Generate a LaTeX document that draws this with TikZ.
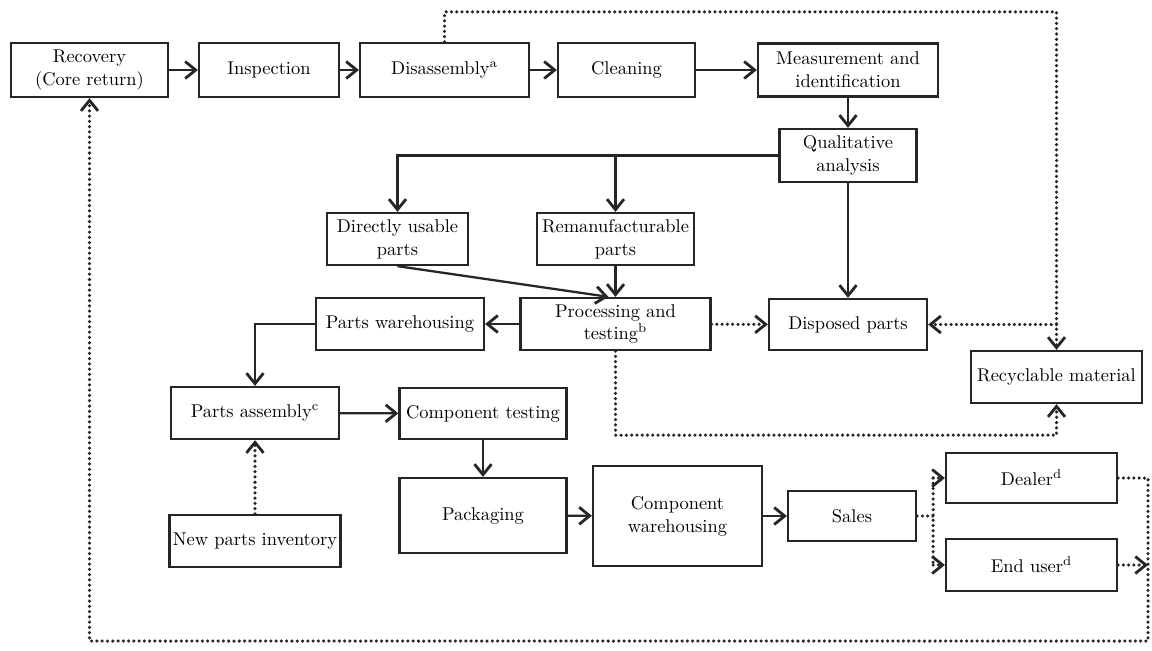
\documentclass[tikz,border=0pt]{standalone}
\usetikzlibrary{arrows.meta}
\definecolor{ink}{HTML}{262626}
\tikzset{
  box/.style={draw=ink, line width=1.3pt, align=center, inner sep=1pt,
    font=\fontsize{10.5}{13}\selectfont, text=black},
  link/.style={draw=ink, line width=1.3pt},
  flow/.style={link, -{Straight Barb[length=2.1mm,width=3.4mm,line width=1.6pt]}},
  dotlink/.style={draw=ink, line width=2pt, line cap=round, dash pattern=on 0pt off 3pt},
  dotflow/.style={dotlink, -{Straight Barb[length=2.1mm,width=3.4mm,line width=1.6pt]}},
}
\begin{document}
\begin{tikzpicture}[x=0.02cm,y=-0.02cm]
\useasboundingbox (0,0) rectangle (1152,650);
% first row
\node[box, minimum width=3.14cm, minimum height=1.08cm] (recov) at (89.5,70) {Recovery\\(Core return)};
\node[box, minimum width=2.8cm, minimum height=1.08cm] (insp) at (269,70) {Inspection};
\node[box, minimum width=3.38cm, minimum height=1.08cm] (disas) at (444.5,70) {Disassembly\textsuperscript{a}};
\node[box, minimum width=2.74cm, minimum height=1.08cm] (clean) at (626.5,70) {Cleaning};
\node[box, minimum width=3.6cm, minimum height=1.06cm] (meas) at (848,70) {Measurement and\\identification};
\node[box, minimum width=2.74cm, minimum height=1.06cm] (qual) at (848,155.5) {Qualitative\\analysis};
% sorted parts
\node[box, minimum width=2.82cm, minimum height=1.04cm] (direct) at (397.5,239) {Directly usable\\parts};
\node[box, minimum width=3.14cm, minimum height=1.04cm] (reman) at (615.5,239) {Remanufacturable\\parts};
\node[box, minimum width=3.8cm, minimum height=1.04cm] (proc) at (615.5,324) {Processing and\\testing\textsuperscript{b}};
\node[box, minimum width=3.36cm, minimum height=1.04cm] (pware) at (400,324) {Parts warehousing};
\node[box, minimum width=3.16cm, minimum height=1.02cm] (dispo) at (848,324.5) {Disposed parts};
\node[box, minimum width=3.42cm, minimum height=1.04cm] (recyc) at (1056.5,377) {Recyclable material};
% assembly and sales
\node[box, minimum width=3.36cm, minimum height=1.04cm] (passy) at (255,413) {Parts assembly\textsuperscript{c}};
\node[box, minimum width=3.34cm, minimum height=1.02cm] (ctest) at (483,413.5) {Component testing};
\node[box, minimum width=3.42cm, minimum height=1.04cm] (newp) at (255,541) {New parts inventory};
\node[box, minimum width=3.34cm, minimum height=1.5cm] (pack) at (483,515.5) {Packaging};
\node[box, minimum width=3.38cm, minimum height=2cm] (cware) at (677.5,516) {Component\\warehousing};
\node[box, minimum width=2.56cm, minimum height=1cm] (sales) at (852,516) {Sales};
\node[box, minimum width=3.42cm, minimum height=1cm] (dealer) at (1031.5,478) {Dealer\textsuperscript{d}};
\node[box, minimum width=3.42cm, minimum height=1.04cm] (user) at (1031.5,565) {End user\textsuperscript{d}};
% solid flow
\draw[flow] (recov) -- (insp);
\draw[flow] (insp) -- (disas);
\draw[flow] (disas) -- (clean);
\draw[flow] (clean) -- (meas);
\draw[flow] (meas) -- (qual);
\draw[flow] (qual.west) -| (direct.north);
\draw[flow] (qual.west -| reman.north) -- (reman.north);
\draw[flow] (qual) -- (dispo);
\draw[flow] (direct.south) -- ([xshift=-0.14cm]proc.north);
\draw[flow] (reman) -- (proc);
\draw[flow] (proc) -- (pware);
\draw[flow] (pware.west) -| (passy.north);
\draw[flow] (passy) -- (ctest);
\draw[flow] (ctest) -- (pack);
\draw[flow] (pack) -- (cware);
\draw[flow] (cware) -- (sales);
% dotted flow
\draw[dotflow] (newp) -- (passy);
\draw[dotflow] (proc) -- (dispo);
\draw[dotflow] (disas.north) -- ++(0,-30) -| (recyc.north);
\draw[dotflow] (recyc.north |- dispo.east) -- (dispo.east);
\draw[dotflow] (proc.south) -- ++(0,84) -| (recyc.south);
\draw[dotlink] (sales.east) -- ++(16,0) coordinate (fork);
\draw[dotlink] (fork |- dealer.west) -- (fork |- user.west);
\draw[dotflow] (fork |- dealer.west) -- (dealer.west);
\draw[dotflow] (fork |- user.west) -- (user.west);
\coordinate (back) at (1148,641);
\draw[dotflow] (dealer.east) -| (back) -| (recov.south);
\draw[dotflow] (user.east) -- (user.east -| back);
\end{tikzpicture}
\end{document}
